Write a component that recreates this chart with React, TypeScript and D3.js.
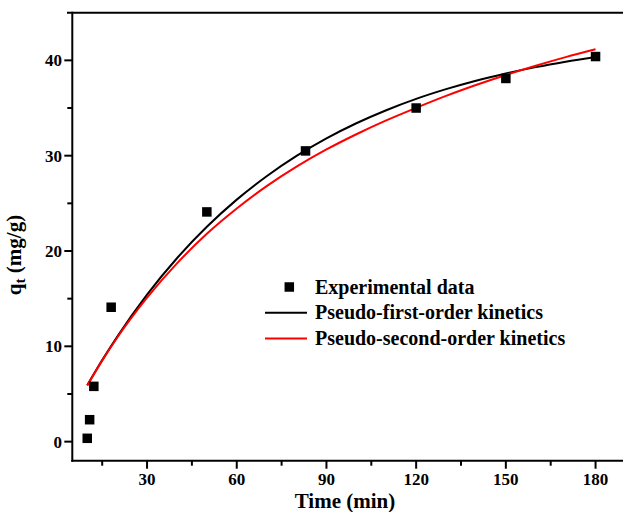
import React from "react";
import * as d3 from "d3";

// Experimental data (time in min, q_t in mg/g)
const expTimes = [10, 10.8, 12.2, 18, 50, 83, 120, 150, 180];
const expQt = [0.35, 2.3, 5.8, 14.1, 24.1, 30.5, 35.0, 38.1, 40.4];

// Fitted curves
const fitTimes = [10, 15, 20, 30, 40, 50, 60, 70, 80, 90, 100, 110, 120, 130, 140, 150, 160, 170, 180];
const pfoQt = [5.91, 8.56, 11.01, 15.43, 19.24, 22.54, 25.39, 27.84, 29.97, 31.81, 33.4, 34.77, 35.96, 36.98, 37.87, 38.63, 39.29, 39.86, 40.36];
const psoQt = [5.9, 8.5, 10.9, 15.1, 18.7, 21.8, 24.45, 26.8, 28.85, 30.65, 32.25, 33.7, 35.02, 36.27, 37.41, 38.47, 39.44, 40.34, 41.17];

// Axis ticks
const xMajorTicks = [30, 60, 90, 120, 150, 180];
const xMinorTicks = [15, 45, 75, 105, 135, 165];
const yMajorTicks = [0, 10, 20, 30, 40];
const yMinorTicks = [5, 15, 25, 35];

const legendLabels = ["Experimental data", "Pseudo-first-order kinetics", "Pseudo-second-order kinetics"];

const FONT = "'Liberation Serif', 'Times New Roman', serif";

export default function App() {
  const W = 623;
  const H = 512;
  const left = 72.3;
  const top = 12.7;
  const bottom = 460.7;

  const x = d3.scaleLinear().domain([5, 200]).range([left, left + 195 * 2.99]);
  const y = d3.scaleLinear().domain([-2, 45]).range([bottom, top]);

  const line = d3
    .line<[number, number]>()
    .x((d) => x(d[0]))
    .y((d) => y(d[1]))
    .curve(d3.curveMonotoneX);

  const pfoPath = line(fitTimes.map((t, i) => [t, pfoQt[i]] as [number, number])) || "";
  const psoPath = line(fitTimes.map((t, i) => [t, psoQt[i]] as [number, number])) || "";

  const sq = 9.5;
  const lx = 265;
  const ly0 = 287;
  const dy = 25.8;

  return (
    <svg
      width={W}
      height={H}
      viewBox={`0 0 ${W} ${H}`}
      style={{ position: "absolute", left: 0, top: 0, background: "#fff" }}
    >
      <rect x={0} y={0} width={W} height={H} fill="#fff" />

      {/* Fitted curves */}
      <path d={pfoPath} fill="none" stroke="#000" strokeWidth={2} />
      <path d={psoPath} fill="none" stroke="#ff0000" strokeWidth={2} />

      {/* Experimental points */}
      {expTimes.map((t, i) => (
        <rect
          key={`p${i}`}
          x={x(t) - sq / 2}
          y={y(expQt[i]) - sq / 2}
          width={sq}
          height={sq}
          fill="#000"
        />
      ))}

      {/* Frame */}
      <line x1={left} x2={left} y1={top - 1} y2={bottom + 1} stroke="#000" strokeWidth={2} />
      <line x1={left - 1} x2={W} y1={bottom} y2={bottom} stroke="#000" strokeWidth={2} />
      <line x1={67} x2={W} y1={top} y2={top} stroke="#000" strokeWidth={2} />

      {/* X ticks */}
      {xMajorTicks.map((t) => (
        <g key={`xt${t}`}>
          <line x1={x(t)} x2={x(t)} y1={bottom} y2={bottom + 8} stroke="#000" strokeWidth={2} />
          <text
            x={x(t)}
            y={485}
            textAnchor="middle"
            fontFamily={FONT}
            fontWeight="bold"
            fontSize={17}
            fill="#000"
          >
            {t}
          </text>
        </g>
      ))}
      {xMinorTicks.map((t) => (
        <line key={`xm${t}`} x1={x(t)} x2={x(t)} y1={bottom} y2={bottom + 5} stroke="#000" strokeWidth={2} />
      ))}

      {/* Y ticks */}
      {yMajorTicks.map((t) => (
        <g key={`yt${t}`}>
          <line x1={left - 8} x2={left} y1={y(t)} y2={y(t)} stroke="#000" strokeWidth={2} />
          <text
            x={62}
            y={y(t)}
            dy="0.35em"
            textAnchor="end"
            fontFamily={FONT}
            fontWeight="bold"
            fontSize={17}
            fill="#000"
          >
            {t}
          </text>
        </g>
      ))}
      {yMinorTicks.map((t) => (
        <line key={`ym${t}`} x1={left - 5} x2={left} y1={y(t)} y2={y(t)} stroke="#000" strokeWidth={2} />
      ))}

      {/* Axis titles */}
      <text
        x={345}
        y={507.5}
        textAnchor="middle"
        fontFamily={FONT}
        fontWeight="bold"
        fontSize={21}
        fill="#000"
      >
        Time (min)
      </text>
      <text
        transform="translate(21,255) rotate(-90)"
        textAnchor="middle"
        fontFamily={FONT}
        fontWeight="bold"
        fontSize={21}
        fill="#000"
      >
        q<tspan dy={4} fontSize={15}>t</tspan>
        <tspan dy={-4}> (mg/g)</tspan>
      </text>

      {/* Legend */}
      <rect x={289.3 - sq / 2} y={ly0 - sq / 2} width={sq} height={sq} fill="#000" />
      <line x1={lx} x2={307} y1={ly0 + dy} y2={ly0 + dy} stroke="#000" strokeWidth={2} />
      <line x1={lx} x2={307} y1={ly0 + 2 * dy} y2={ly0 + 2 * dy} stroke="#ff0000" strokeWidth={2} />
      {legendLabels.map((lab, i) => (
        <text
          key={lab}
          x={315}
          y={ly0 + i * dy}
          dy="0.33em"
          fontFamily={FONT}
          fontWeight="bold"
          fontSize={20}
          fill="#000"
        >
          {lab}
        </text>
      ))}
    </svg>
  );
}
